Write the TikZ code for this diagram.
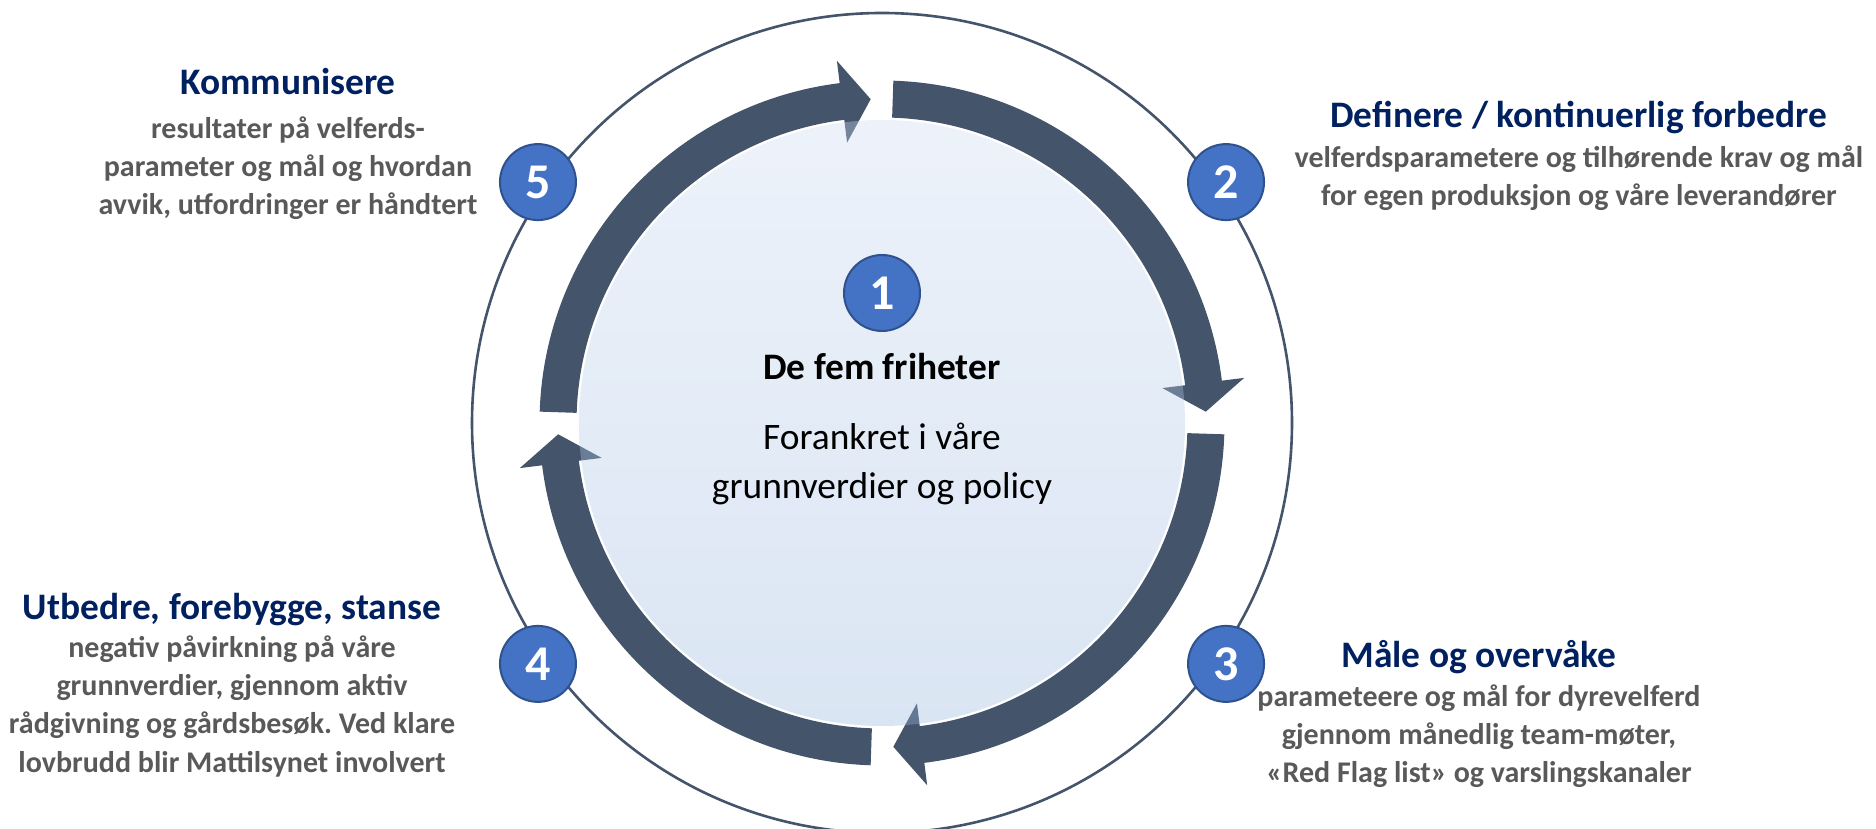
\documentclass[tikz,border=0pt]{standalone}
\usepackage{fontspec}
\setmainfont{Carlito}
\frenchspacing
\definecolor{bandc}{HTML}{44546A}
\definecolor{numfill}{HTML}{4472C4}
\definecolor{numdraw}{HTML}{2F528F}
\definecolor{headc}{HTML}{002060}
\definecolor{bodyc}{HTML}{595959}
\definecolor{innertop}{RGB}{205,219,241}
\definecolor{innerbot}{RGB}{152,183,222}
\tikzset{
 numcirc/.style={circle, fill=numfill, draw=numdraw, line width=1pt, minimum size=38pt, inner sep=0pt, text=white, font=\fontsize{25}{25}\selectfont\bfseries},
 headtxt/.style={anchor=base, text=headc, font=\fontsize{18.7}{22}\selectfont\bfseries, inner sep=0pt},
 bodytxt/.style={anchor=base, text=bodyc, font=\fontsize{15}{18}\selectfont\bfseries, inner sep=0pt},
 ctxt/.style={anchor=base, text=black, font=\fontsize{18.7}{22}\selectfont, inner sep=0pt},
 ringline/.style={draw=bandc, line width=1.3pt},
 bandfill/.style={fill=bandc},
}
\begin{document}
\begin{tikzpicture}[x=0.5pt,y=0.5pt]
\useasboundingbox (0,0) rectangle (1876,829);
\coordinate (O) at (882,406);
\draw[ringline] (O) circle[radius=410];
\begin{scope}[shift={(O)}]
\foreach \t in {180,90,0,-90}{
  \fill[bandfill] (\t-1.9:342.5) arc[start angle=\t-1.9, end angle=\t-82.9, radius=342.5]
    -- (\t-82.9:365) -- (\t-88:324) -- (\t-82.9:282.5) -- (\t-82.9:305.5)
    arc[start angle=\t-82.9, end angle=\t-1.9, radius=305.5] -- cycle;
}
\end{scope}
\shade[top color=innertop, bottom color=innerbot, opacity=0.36] (O) circle[radius=303];
\begin{scope}[shift={(O)}]
\node[numcirc] (n5) at (145:420) {5};
\node[numcirc] (n2) at (35:420) {2};
\node[numcirc] (n3) at (-35:420) {3};
\node[numcirc] (n4) at (-145:420) {4};
\end{scope}
\node[numcirc] (n1) at (882,536) {1};
% centre
\node[ctxt,font=\fontsize{18.7}{22}\selectfont\bfseries] (c1) at (882,449) {De fem friheter};
\node[ctxt] (c2) at (882,379) {Forankret i våre};
\node[ctxt] (c3) at (882,330) {grunnverdier og policy};
% Kommunisere
\node[headtxt] (h5) at (288,734) {Kommunisere};
\node[bodytxt] (b5a) at (288,690) {resultater på velferds-};
\node[bodytxt] (b5b) at (288,652) {parameter og mål og hvordan};
\node[bodytxt] (b5c) at (288,614) {avvik, utfordringer er håndtert};
% Definere
\node[headtxt] (h2) at (1579,701) {Definere / kontinuerlig forbedre};
\node[bodytxt] (b2a) at (1579,661) {velferdsparametere og tilhørende krav og mål};
\node[bodytxt] (b2b) at (1579,623) {for egen produksjon og våre leverandører};
% Maale
\node[headtxt] (h3) at (1479,161) {Måle og overvåke};
\node[bodytxt] (b3a) at (1479,122) {parameteere og mål for dyrevelferd};
\node[bodytxt] (b3b) at (1479,84) {gjennom månedlig team-møter,};
\node[bodytxt] (b3c) at (1479,46) {«Red Flag list» og varslingskanaler};
% Utbedre
\node[headtxt] (h4) at (232,209) {Utbedre, forebygge, stanse};
\node[bodytxt] (b4a) at (232,171) {negativ påvirkning på våre};
\node[bodytxt] (b4b) at (232,133) {grunnverdier, gjennom aktiv};
\node[bodytxt] (b4c) at (232,95) {rådgivning og gårdsbesøk. Ved klare};
\node[bodytxt] (b4d) at (232,56) {lovbrudd blir Mattilsynet involvert};
\end{tikzpicture}
\end{document}
